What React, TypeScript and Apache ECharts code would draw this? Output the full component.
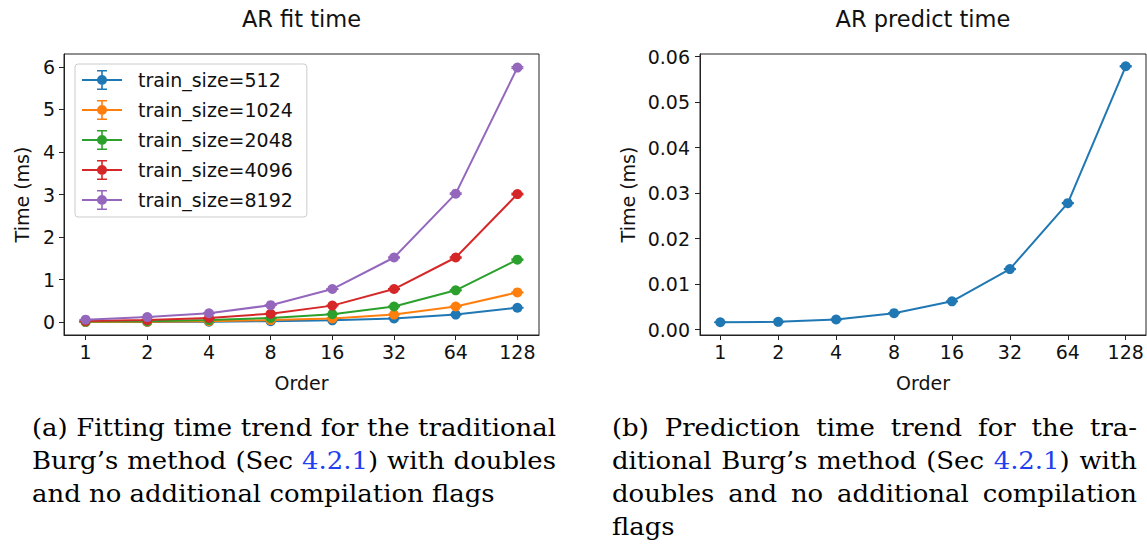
import React, { useEffect, useRef } from "react";
import * as echarts from "echarts";

const ORDERS = [1, 2, 4, 8, 16, 32, 64, 128];
const SIZE_NAMES = ["train_size=512", "train_size=1024", "train_size=2048", "train_size=4096", "train_size=8192"];
const FIT_512 = [0.003, 0.006, 0.012, 0.023, 0.045, 0.09, 0.18, 0.34];
const FIT_1024 = [0.008, 0.013, 0.025, 0.05, 0.09, 0.18, 0.37, 0.7];
const FIT_2048 = [0.015, 0.025, 0.05, 0.1, 0.19, 0.37, 0.75, 1.47];
const FIT_4096 = [0.03, 0.05, 0.1, 0.2, 0.39, 0.78, 1.52, 3.01];
const FIT_8192 = [0.06, 0.12, 0.21, 0.4, 0.78, 1.52, 3.02, 5.98];
const FIT_ERR = [0.002, 0.002, 0.003, 0.004, 0.006, 0.01, 0.015, 0.02];
const PREDICT = [0.0016, 0.0017, 0.0022, 0.0036, 0.0062, 0.0133, 0.0278, 0.0579];
const PREDICT_ERR = [0.00003, 0.00003, 0.00003, 0.00004, 0.00005, 0.00008, 0.0001, 0.00012];
const FIT_Y_TICKS = [0, 1, 2, 3, 4, 5, 6];
const PRED_Y_TICKS = [0, 0.01, 0.02, 0.03, 0.04, 0.05, 0.06];
const X_TICKS = [0, 1, 2, 3, 4, 5, 6, 7];
const COLORS = ["#1f77b4", "#ff7f0e", "#2ca02c", "#d62728", "#9467bd"];
const TITLE_A = "AR fit time";
const TITLE_B = "AR predict time";
const CAPTION_A = [
  "(a) Fitting time trend for the traditional",
  "Burg’s method (Sec 4.2.1) with doubles",
  "and no additional compilation flags",
];
const CAPTION_B = [
  "(b) Prediction time trend for the tra-",
  "ditional Burg’s method (Sec 4.2.1) with",
  "doubles and no additional compilation",
  "flags",
];

const SANS = "DejaVu Sans";
const SERIF = "DejaVu Serif";
const CAP_SIZE = 24;
const CAP_SCALE_X = 1.08;
const LINK = "#1f3ff0";

const ICON =
  "path://M0,9.1 H40 V10.9 H0 Z M19.2,0 H20.8 V20 H19.2 Z M15,0 H25 V1.6 H15 Z M15,18.4 H25 V20 H15 Z M25,10 A5,5 0 1,1 15,10 A5,5 0 1,1 25,10 Z";

function errRender(color: string) {
  return (params: any, api: any) => {
    const x = api.value(0);
    const y = api.value(1);
    const e = api.value(2);
    const top = api.coord([x, y + e]);
    const bot = api.coord([x, y - e]);
    const hw = 6;
    const style = { stroke: color, lineWidth: 1.5 };
    return {
      type: "group",
      children: [
        { type: "line", shape: { x1: top[0], y1: top[1], x2: bot[0], y2: bot[1] }, style },
        { type: "line", shape: { x1: top[0] - hw, y1: top[1], x2: top[0] + hw, y2: top[1] }, style },
        { type: "line", shape: { x1: bot[0] - hw, y1: bot[1], x2: bot[0] + hw, y2: bot[1] }, style },
      ],
    };
  };
}

function captionElements(lines: string[], x0: number, x1: number, y0: number, lh: number) {
  const canvas = document.createElement("canvas");
  const ctx = canvas.getContext("2d") as CanvasRenderingContext2D;
  ctx.font = `${CAP_SIZE}px "${SERIF}"`;
  const els: any[] = [];
  lines.forEach((line, li) => {
    const words = line.split(" ");
    const widths = words.map((w) => ctx.measureText(w).width * CAP_SCALE_X);
    const total = widths.reduce((a, b) => a + b, 0);
    const last = li === lines.length - 1;
    const space = ctx.measureText(" ").width * CAP_SCALE_X;
    const gap = last || words.length < 2 ? space : (x1 - x0 - total) / (words.length - 1);
    let x = x0;
    const y = y0 + li * lh;
    words.forEach((w, wi) => {
      const hasRef = w.indexOf("4.2.1") >= 0;
      els.push({
        type: "text",
        x,
        y,
        scaleX: CAP_SCALE_X,
        silent: true,
        style: {
          text: hasRef ? w.replace("4.2.1", "{ref|4.2.1}") : w,
          fontSize: CAP_SIZE,
          fontFamily: SERIF,
          fill: "#000",
          verticalAlign: "middle",
          align: "left",
          rich: hasRef ? { ref: { fill: LINK, fontSize: CAP_SIZE, fontFamily: SERIF } } : undefined,
        },
      });
      x += widths[wi] + gap;
    });
  });
  return els;
}

function xAxisDef(gridIndex: number) {
  return {
    type: "value",
    gridIndex,
    min: -0.35,
    max: 7.35,
    splitLine: { show: false },
    axisLine: { show: true, onZero: false, lineStyle: { color: "#222", width: 1 } },
    axisTick: { show: true, length: 5, customValues: X_TICKS, lineStyle: { color: "#222", width: 1 } },
    axisLabel: {
      customValues: X_TICKS,
      formatter: (v: number) => String(ORDERS[Math.round(v)]),
      fontSize: 19,
      fontFamily: SANS,
      color: "#111",
      margin: 7,
    },
    name: "Order",
    nameLocation: "middle",
    nameGap: 38,
    nameTextStyle: { fontSize: 19, fontFamily: SANS, color: "#111" },
  };
}

export default function App() {
  const ref = useRef<HTMLDivElement>(null);
  useEffect(() => {
    if (!ref.current) return;
    const chart = echarts.init(ref.current, undefined, { renderer: "svg" });
    const fits = [FIT_512, FIT_1024, FIT_2048, FIT_4096, FIT_8192];
    const series: any[] = [];
    fits.forEach((vals, i) => {
      series.push({
        type: "custom",
        name: "err_" + i,
        xAxisIndex: 0,
        yAxisIndex: 0,
        renderItem: errRender(COLORS[i]),
        data: ORDERS.map((o, k) => [Math.log2(o), vals[k], FIT_ERR[k] * (i + 1) / 5]),
        encode: { x: 0, y: 1 },
        z: 2 + i * 2,
        silent: true,
      });
      series.push({
        type: "line",
        name: SIZE_NAMES[i],
        xAxisIndex: 0,
        yAxisIndex: 0,
        data: ORDERS.map((o, k) => [Math.log2(o), vals[k]]),
        symbol: "circle",
        symbolSize: 10,
        lineStyle: { color: COLORS[i], width: 2 },
        itemStyle: { color: COLORS[i], borderWidth: 0 },
        z: 3 + i * 2,
        silent: true,
      });
    });
    series.push({
      type: "custom",
      name: "err_pred",
      xAxisIndex: 1,
      yAxisIndex: 1,
      renderItem: errRender(COLORS[0]),
      data: ORDERS.map((o, k) => [Math.log2(o), PREDICT[k], PREDICT_ERR[k]]),
      encode: { x: 0, y: 1 },
      z: 2,
      silent: true,
    });
    series.push({
      type: "line",
      name: "predict",
      xAxisIndex: 1,
      yAxisIndex: 1,
      data: ORDERS.map((o, k) => [Math.log2(o), PREDICT[k]]),
      symbol: "circle",
      symbolSize: 10,
      lineStyle: { color: COLORS[0], width: 2 },
      itemStyle: { color: COLORS[0], borderWidth: 0 },
      z: 3,
      silent: true,
    });

    const yCommon = {
      splitLine: { show: false },
      axisLine: { show: true, onZero: false, lineStyle: { color: "#222", width: 1 } },
      nameLocation: "middle",
      nameTextStyle: { fontSize: 19, fontFamily: SANS, color: "#111" },
    };

    const option: any = {
      animation: false,
      backgroundColor: "#fff",
      title: [
        {
          text: TITLE_A,
          left: 301.5,
          top: 7,
          textAlign: "center",
          padding: 0,
          textStyle: { fontSize: 22.5, fontWeight: "normal", fontFamily: SANS, color: "#111" },
        },
        {
          text: TITLE_B,
          left: 923,
          top: 7,
          textAlign: "center",
          padding: 0,
          textStyle: { fontSize: 22.5, fontWeight: "normal", fontFamily: SANS, color: "#111" },
        },
      ],
      legend: {
        data: SIZE_NAMES,
        orient: "vertical",
        left: 75,
        top: 64,
        itemWidth: 40,
        itemHeight: 20,
        itemGap: 10,
        icon: ICON,
        padding: [6, 14, 7, 7],
        backgroundColor: "rgba(255,255,255,0.85)",
        borderColor: "#cccccc",
        borderWidth: 1,
        borderRadius: 3,
        selectedMode: false,
        itemStyle: { borderWidth: 0 },
        textStyle: { fontSize: 19, fontFamily: SANS, color: "#111", padding: [0, 0, 0, 11], lineHeight: 20 },
      },
      grid: [
        { left: 64, top: 54, width: 475, height: 281, show: true, borderColor: "#222", borderWidth: 1, backgroundColor: "transparent" },
        { left: 700, top: 54, width: 446, height: 281, show: true, borderColor: "#222", borderWidth: 1, backgroundColor: "transparent" },
      ],
      xAxis: [xAxisDef(0), xAxisDef(1)],
      yAxis: [
        {
          ...yCommon,
          type: "value",
          gridIndex: 0,
          min: -0.3,
          max: 6.3,
          axisTick: { show: true, length: 5, customValues: FIT_Y_TICKS, lineStyle: { color: "#222", width: 1 } },
          axisLabel: {
            customValues: FIT_Y_TICKS,
            formatter: (v: number) => String(Math.round(v)),
            fontSize: 19,
            fontFamily: SANS,
            color: "#111",
            margin: 9,
          },
          name: "Time (ms)",
          nameGap: 33,
        },
        {
          ...yCommon,
          type: "value",
          gridIndex: 1,
          min: -0.0012,
          max: 0.0606,
          axisTick: { show: true, length: 5, customValues: PRED_Y_TICKS, lineStyle: { color: "#222", width: 1 } },
          axisLabel: {
            customValues: PRED_Y_TICKS,
            formatter: (v: number) => v.toFixed(2),
            fontSize: 19,
            fontFamily: SANS,
            color: "#111",
            margin: 10,
          },
          name: "Time (ms)",
          nameGap: 63,
        },
      ],
      series,
      graphic: [
        ...captionElements(CAPTION_A, 32, 556, 428, 33),
        ...captionElements(CAPTION_B, 612, 1137, 428, 33),
      ],
    };
    chart.setOption(option);
    return () => chart.dispose();
  }, []);
  return (
    <div
      ref={ref}
      style={{ position: "fixed", left: 0, top: 0, width: 1147, height: 549, background: "#fff" }}
    />
  );
}
